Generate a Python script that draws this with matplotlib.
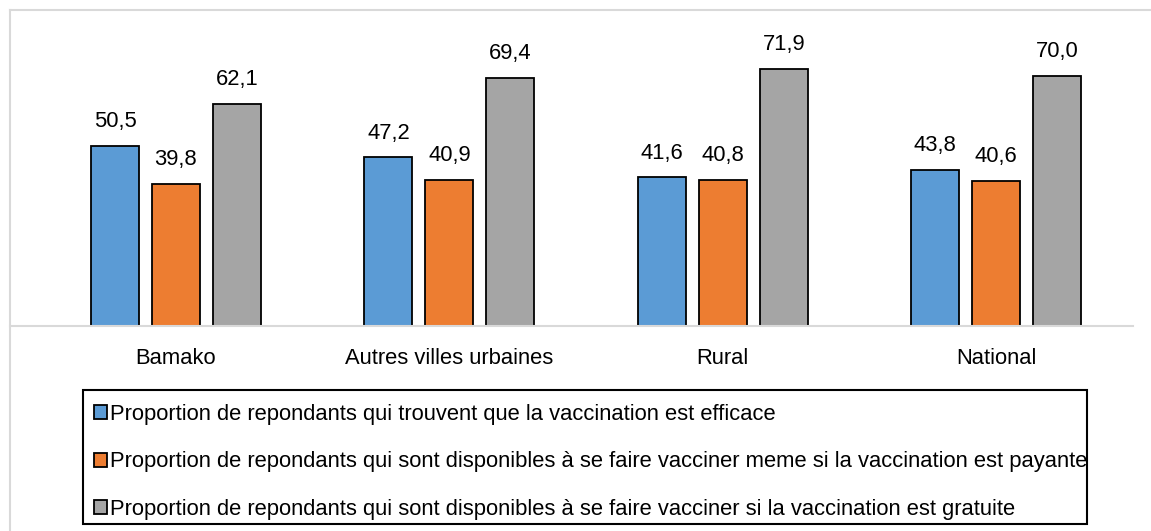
import numpy as np
import matplotlib
matplotlib.use("Agg")
from matplotlib import pyplot as plt
from matplotlib.patches import Patch, Rectangle
from matplotlib.lines import Line2D

plt.rcParams['font.family'] = ['Liberation Sans', 'DejaVu Sans']

categories = ["Bamako", "Autres villes urbaines", "Rural", "National"]
efficace = [50.5, 47.2, 41.6, 43.8]
payante = [39.8, 40.9, 40.8, 40.6]
gratuite = [62.1, 69.4, 71.9, 70.0]
series_names = [
    "Proportion de repondants qui trouvent que la vaccination est efficace",
    "Proportion de repondants qui sont disponibles à se faire vacciner meme si la vaccination est payante",
    "Proportion de repondants qui sont disponibles à se faire vacciner si la vaccination est gratuite",
]
colors = ["#5B9BD5", "#ED7D31", "#A5A5A5"]

W, H = 1151, 531
fig = plt.figure(figsize=(W / 100, H / 100), dpi=100)

# axes placed in pixel terms
left, right, bottom, top = 10, 1133, 326, 20
ax = fig.add_axes([left / W, 1 - bottom / H, (right - left) / W, (bottom - top) / H])

x = np.arange(len(categories))
bw = 0.176
step = 0.223
fs = 15.8
for i, (vals, c) in enumerate(zip([efficace, payante, gratuite], colors)):
    bars = ax.bar(x + (i - 1) * step, vals, bw, color=c, edgecolor="black", linewidth=1.3, zorder=3)
    for b, v in zip(bars, vals):
        ax.annotate(f"{v:.1f}".replace(".", ","), (b.get_x() + b.get_width() / 2, v),
                    xytext=(0, 10), textcoords="offset points", ha="center", va="bottom",
                    fontsize=fs)

ax.set_xlim(-0.607, 3.50)
ax.set_ylim(0, 85.7)
ax.set_yticks([])
ax.set_xticks(x)
ax.set_xticklabels(categories, fontsize=fs)
ax.tick_params(axis="x", length=0, pad=16)
for s in ["top", "right", "left"]:
    ax.spines[s].set_visible(False)
ax.spines["bottom"].set_color("#D9D9D9")
ax.spines["bottom"].set_linewidth(1.5)
ax.spines["bottom"].set_zorder(4)

# outer chart border (light grey)
fig.add_artist(Line2D([9.5 / W, 9.5 / W], [0, 1 - 10 / H], color="#D9D9D9", lw=1.5))
fig.add_artist(Line2D([9.5 / W, 1], [1 - 10 / H, 1 - 10 / H], color="#D9D9D9", lw=1.5))

# legend box drawn by hand so the text can sit close to its right edge
fig.add_artist(Rectangle((83 / W, 1 - 524 / H), (1087 - 83) / W, (524 - 390) / H,
                         transform=fig.transFigure, fill=False, edgecolor="black", lw=1.5))
handles = [Patch(facecolor=c, edgecolor="black", linewidth=1.3) for c in colors]
leg = fig.legend(handles, series_names, loc="upper left",
                 bbox_to_anchor=(83 / W, 1 - 393 / H), bbox_transform=fig.transFigure,
                 fontsize=fs, frameon=False,
                 handlelength=0.6, handleheight=0.6, handletextpad=0.12,
                 labelspacing=1.2, borderpad=0.5, borderaxespad=0)

fig.savefig("out.png", dpi=100)
